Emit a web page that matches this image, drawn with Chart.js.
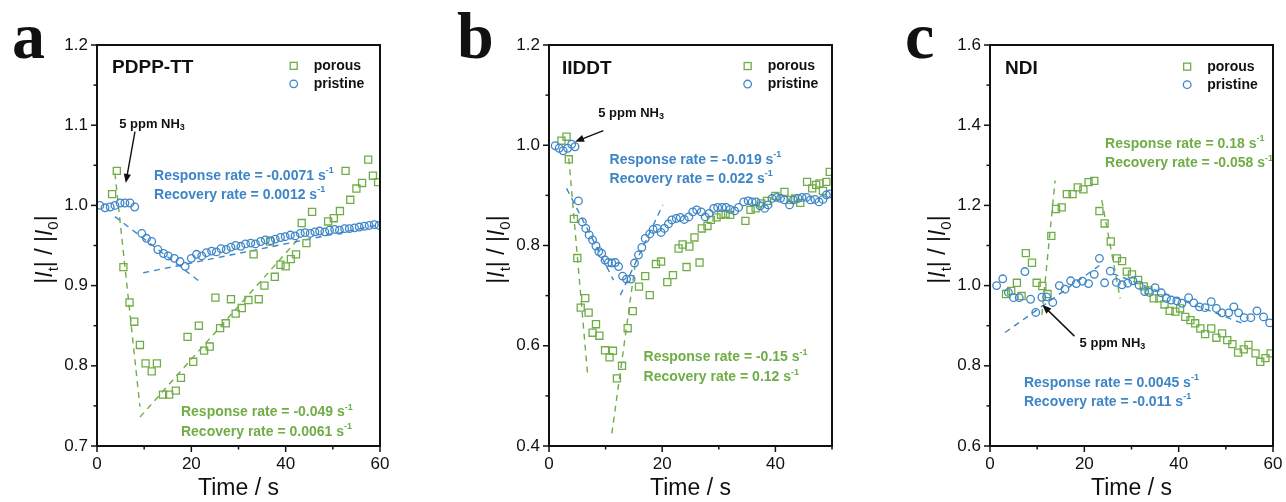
<!DOCTYPE html>
<html>
<head>
<meta charset="utf-8">
<title>NH3 response of porous vs pristine films</title>
<script src="https://cdn.jsdelivr.net/npm/chart.js@4.4.0/dist/chart.umd.min.js"></script>
<style>
  html, body { margin: 0; padding: 0; background: #fff; }
  #wrap { position: relative; width: 1286px; height: 502px; overflow: hidden; }
  .panel { position: absolute; top: 0; height: 502px; }
</style>
</head>
<body>
<div id="wrap">
  <div class="panel" style="left:0;width:390px"><canvas id="chartA" width="390" height="502"></canvas></div>
  <div class="panel" style="left:440px;width:400px"><canvas id="chartB" width="400" height="502"></canvas></div>
  <div class="panel" style="left:880px;width:406px"><canvas id="chartC" width="406" height="502"></canvas></div>
</div>
<script>
// ---- Panel a : PDPP-TT ----
const aPristineTime = [0.6, 1.7, 2.8, 3.8, 4.9, 5.9, 7.0, 8.0, 9.5, 10.5, 11.6, 12.9, 14.1, 15.1, 16.4, 17.6, 18.7,
  20.0, 21.1, 22.2, 23.2, 24.3, 25.3, 26.3, 27.4, 28.4, 29.4, 30.5, 31.5, 32.6, 33.6, 34.7, 35.7, 36.8, 37.8, 38.9, 39.9,
  41.0, 42.0, 43.1, 44.1, 45.2, 46.2, 47.2, 48.3, 49.3, 50.4, 51.4, 52.5, 53.5, 54.6, 55.6, 56.7, 57.7, 58.8, 59.8];
const aPristineRatio = [1.000, 0.997, 0.998, 1.000, 1.003, 1.003, 1.003, 0.998, 0.965, 0.959, 0.955, 0.945, 0.940, 0.937, 0.934, 0.930, 0.924,
  0.934, 0.939, 0.937, 0.941, 0.943, 0.942, 0.946, 0.945, 0.948, 0.950, 0.949, 0.952, 0.953, 0.952, 0.955, 0.957, 0.956, 0.958, 0.960, 0.961,
  0.963, 0.962, 0.965, 0.966, 0.965, 0.967, 0.968, 0.967, 0.969, 0.970, 0.969, 0.971, 0.971, 0.972, 0.973, 0.974, 0.975, 0.976, 0.975];
const aPorousTime = [3.2, 4.2, 5.6, 6.9, 7.9, 9.1, 10.3, 11.6, 12.7, 14.0, 15.3, 16.7, 17.8, 19.2, 20.4, 21.6, 22.7, 23.9, 25.1, 26.1,
  27.3, 28.4, 29.4, 30.7, 32.1, 33.2, 34.3, 35.5, 36.7, 37.7, 38.9, 40.0, 41.1, 42.2, 43.4, 44.4, 45.6, 49.0, 50.2, 51.5,
  52.7, 53.7, 55.0, 56.2, 57.5, 58.5, 59.6];
const aPorousRatio = [1.014, 1.043, 0.923, 0.879, 0.855, 0.826, 0.803, 0.793, 0.803, 0.764, 0.764, 0.769, 0.785, 0.836, 0.805, 0.850, 0.819, 0.824, 0.885, 0.847,
  0.853, 0.883, 0.865, 0.872, 0.882, 0.939, 0.883, 0.900, 0.955, 0.911, 0.926, 0.924, 0.933, 0.939, 0.978, 0.953, 0.992, 0.980, 0.984, 0.993,
  1.043, 1.007, 1.021, 1.028, 1.057, 1.037, 1.029];
// dashed fits: [time, ratio] at both ends
const aPorousFall = [[3.8, 1.040], [9.1, 0.749]];
const aPorousRise = [[9.1, 0.736], [42.5, 0.957]];
const aPristineFall = [[3.8, 0.986], [21.8, 0.905]];
const aPristineRise = [[9.8, 0.916], [60, 0.976]];

// ---- Panel b : IIDDT ----
const bPristineTime = [1.1, 1.8, 2.5, 3.3, 4.0, 4.6, 5.2, 5.9, 6.5, 7.1, 7.7, 8.3, 8.8, 9.3, 9.9, 10.5, 11.1, 11.7, 12.3, 13.0,
  13.7, 14.5, 15.1, 15.8, 16.4, 17.0, 17.8, 18.4, 19.1, 19.8, 20.4, 21.1, 21.7, 22.5, 23.2, 23.9, 24.7, 25.4, 26.1, 26.9,
  27.6, 28.3, 29.1, 29.8, 30.6, 31.3, 32.0, 32.8, 33.5, 34.4, 35.2, 35.9, 36.6, 37.3, 38.1, 38.7, 39.4, 40.2, 40.9, 41.6,
  42.5, 43.2, 44.0, 44.7, 45.5, 46.2, 47.0, 47.7, 48.4, 49.0, 49.6];
const bPristineRatio = [0.999, 0.994, 0.989, 0.994, 1.002, 0.997, 0.889, 0.847, 0.834, 0.821, 0.811, 0.799, 0.788, 0.784, 0.771, 0.766, 0.765, 0.766, 0.758, 0.739,
  0.733, 0.733, 0.765, 0.781, 0.796, 0.814, 0.823, 0.832, 0.834, 0.826, 0.834, 0.843, 0.851, 0.854, 0.856, 0.852, 0.857, 0.867, 0.871, 0.867,
  0.857, 0.864, 0.874, 0.876, 0.876, 0.876, 0.872, 0.869, 0.876, 0.887, 0.889, 0.887, 0.887, 0.879, 0.874, 0.881, 0.894, 0.896, 0.894, 0.891,
  0.881, 0.891, 0.894, 0.896, 0.896, 0.891, 0.892, 0.887, 0.892, 0.901, 0.903];
const bPorousTime = [2.2, 3.1, 3.5, 4.4, 5.0, 5.6, 6.4, 7.0, 7.7, 8.3, 8.9, 9.9, 10.7, 11.3, 12.0, 12.9, 13.9, 14.8, 15.9, 17.0,
  17.8, 18.9, 19.8, 20.9, 21.9, 22.9, 23.6, 24.3, 24.8, 25.7, 26.6, 27.0, 28.0, 28.6, 29.6, 30.4, 31.2, 32.0, 34.7, 35.6,
  36.5, 37.5, 38.5, 40.0, 41.6, 42.7, 43.5, 44.4, 45.6, 46.5, 47.2, 47.8, 48.4, 49.0, 49.6];
const bPorousRatio = [1.009, 1.017, 0.972, 0.853, 0.775, 0.676, 0.695, 0.666, 0.626, 0.643, 0.620, 0.591, 0.577, 0.590, 0.535, 0.560, 0.635, 0.669, 0.718, 0.739,
  0.701, 0.763, 0.768, 0.727, 0.741, 0.794, 0.802, 0.757, 0.798, 0.816, 0.766, 0.834, 0.839, 0.851, 0.856, 0.861, 0.863, 0.861, 0.849, 0.871,
  0.874, 0.884, 0.889, 0.899, 0.907, 0.891, 0.894, 0.885, 0.927, 0.914, 0.921, 0.924, 0.909, 0.927, 0.947];
const bPorousFall = [[3.5, 0.974], [6.8, 0.545]];
const bPorousRise = [[11.1, 0.425], [15.2, 0.760]];
const bPristineFall = [[3.1, 0.914], [11.4, 0.731]];
const bPristineRise = [[12.6, 0.701], [20.1, 0.881]];

// ---- Panel c : NDI ----
const cPristineTime = [1.4, 2.7, 3.9, 5.0, 6.2, 7.4, 8.6, 9.7, 11.0, 12.0, 13.3, 14.7, 15.9, 17.1, 18.3, 19.6, 20.9, 22.1, 23.2, 24.3,
  25.5, 26.8, 28.0, 29.2, 30.3, 31.6, 32.8, 33.8, 35.0, 36.3, 37.4, 38.4, 39.6, 40.7, 42.1, 43.2, 44.4, 45.6, 46.9, 48.0,
  49.2, 50.6, 51.7, 52.7, 53.9, 55.3, 56.6, 58.0, 59.3];
const cPristineRatio = [1.000, 1.017, 0.983, 0.970, 0.970, 1.035, 0.966, 0.933, 0.971, 0.972, 0.958, 1.000, 0.991, 1.012, 1.005, 1.011, 1.005, 1.028, 1.068, 1.007,
  1.036, 1.008, 1.002, 1.006, 1.012, 1.001, 0.985, 0.983, 0.995, 0.982, 0.968, 0.964, 0.962, 0.956, 0.970, 0.957, 0.947, 0.945, 0.960, 0.943,
  0.932, 0.932, 0.947, 0.932, 0.920, 0.920, 0.937, 0.922, 0.907];
const cPorousTime = [3.4, 4.5, 5.7, 6.7, 7.6, 8.9, 9.9, 11.1, 12.2, 13.0, 14.0, 15.2, 16.3, 17.5, 18.6, 19.8, 20.9, 22.1, 23.2, 24.3,
  25.6, 26.9, 28.0, 29.0, 30.1, 31.4, 32.6, 33.6, 34.7, 35.9, 37.0, 38.1, 39.3, 40.3, 41.4, 42.5, 43.5, 44.6, 45.6, 46.9,
  48.0, 49.2, 50.3, 51.4, 52.6, 53.8, 54.8, 56.3, 57.3, 58.4, 59.5];
const cPorousRatio = [0.979, 0.987, 1.007, 0.974, 1.081, 1.057, 1.007, 0.999, 0.979, 1.124, 1.191, 1.195, 1.228, 1.228, 1.245, 1.240, 1.258, 1.261, 1.186, 1.155,
  1.110, 1.068, 1.061, 1.035, 1.028, 1.014, 0.998, 0.988, 0.968, 0.968, 0.953, 0.937, 0.935, 0.943, 0.922, 0.914, 0.906, 0.893, 0.879, 0.893,
  0.870, 0.881, 0.864, 0.854, 0.833, 0.841, 0.852, 0.831, 0.810, 0.819, 0.831];
const cPorousFall = [[23.7, 1.213], [27.6, 0.968]];
const cPorousRise = [[11.0, 0.927], [13.8, 1.262]];
const cPristineRise = [[3.2, 0.883], [23.2, 1.050]];
const cPristineFall = [[26.0, 1.030], [53.5, 0.906]];

const GREEN = '#70ad47';
const BLUE = '#3d85c6';
const INK = '#111111';
const SANS = '"Liberation Sans", Arial, Helvetica, sans-serif';
const SERIF = '"Liberation Serif", "Times New Roman", serif';

function toPoints(ts, vs) { return ts.map((t, i) => ({ x: t, y: vs[i] })); }
function segPoints(seg) { return seg.map(p => ({ x: p[0], y: p[1] })); }

function markerSet(label, ts, vs, color, style, radius) {
    return {
        label: label,
        data: toPoints(ts, vs),
        showLine: false,
        pointStyle: style,
        pointRadius: radius,
        pointBorderWidth: 1.3,
        pointBorderColor: color,
        pointBackgroundColor: 'rgba(0,0,0,0)',
        borderColor: color,
        backgroundColor: 'rgba(0,0,0,0)'
    };
}

function fitSet(seg, color) {
    return {
        data: segPoints(seg),
        showLine: true,
        borderColor: color,
        borderWidth: 1.4,
        borderDash: [6, 5],
        pointRadius: 0,
        fill: false
    };
}

// text made of runs (normal / italic / sub / superscript)
function drawRuns(ctx, x, y, runs, size, bold) {
    let cx = x;
    runs.forEach(r => {
        const small = r.sup || r.sub;
        const s = small ? Math.round(size * 0.66) : size;
        ctx.font = (r.italic ? 'italic ' : '') + (bold ? 'bold ' : '') + s + 'px ' + SANS;
        const dy = r.sup ? -size * 0.36 : (r.sub ? size * 0.28 : 0);
        ctx.fillText(r.text, cx, y + dy);
        cx += ctx.measureText(r.text).width;
    });
    return cx - x;
}

function measureRuns(ctx, runs, size, bold) {
    let w = 0;
    runs.forEach(r => {
        const s = (r.sup || r.sub) ? Math.round(size * 0.66) : size;
        ctx.font = (r.italic ? 'italic ' : '') + (bold ? 'bold ' : '') + s + 'px ' + SANS;
        w += ctx.measureText(r.text).width;
    });
    return w;
}

function drawArrow(ctx, x1, y1, x2, y2) {
    const a = Math.atan2(y2 - y1, x2 - x1);
    const h = 9, w = 3.6;
    ctx.beginPath();
    ctx.moveTo(x1, y1);
    ctx.lineTo(x2 - Math.cos(a) * h * 0.8, y2 - Math.sin(a) * h * 0.8);
    ctx.stroke();
    ctx.beginPath();
    ctx.moveTo(x2, y2);
    ctx.lineTo(x2 - h * Math.cos(a) + w * Math.sin(a), y2 - h * Math.sin(a) - w * Math.cos(a));
    ctx.lineTo(x2 - h * Math.cos(a) - w * Math.sin(a), y2 - h * Math.sin(a) + w * Math.cos(a));
    ctx.closePath();
    ctx.fill();
}

// frame, Origin-style ticks, axis titles, legend and notes
const panelDecor = {
    id: 'panelDecor',
    afterDraw(chart, args, o) {
        const { ctx, chartArea: ca, scales: { x, y } } = chart;
        const px = v => x.getPixelForValue(v);
        const py = v => y.getPixelForValue(v);
        ctx.save();

        // frame
        ctx.strokeStyle = INK;
        ctx.lineWidth = 2;
        ctx.strokeRect(ca.left, ca.top, ca.right - ca.left, ca.bottom - ca.top);

        // ticks on bottom and left, major + minor
        ctx.lineWidth = 1.5;
        const xn = Math.round((x.max - x.min) / o.xMinor);
        for (let i = 0; i <= xn; i++) {
            const X = px(x.min + i * o.xMinor);
            const len = i % 2 === 0 ? 6 : 3.5;
            ctx.beginPath(); ctx.moveTo(X, ca.bottom); ctx.lineTo(X, ca.bottom + len); ctx.stroke();
        }
        const yn = Math.round((y.max - y.min) / o.yMinor);
        for (let i = 0; i <= yn; i++) {
            const Y = py(y.min + i * o.yMinor);
            const len = i % 2 === 0 ? 6 : 3.5;
            ctx.beginPath(); ctx.moveTo(ca.left, Y); ctx.lineTo(ca.left - len, Y); ctx.stroke();
        }

        ctx.fillStyle = INK;
        ctx.textBaseline = 'alphabetic';

        // panel letter
        ctx.font = 'bold 66px ' + SERIF;
        ctx.textAlign = 'left';
        ctx.fillText(o.letter, ca.left + o.letterDx, 58);

        // x title
        ctx.font = '23px ' + SANS;
        ctx.textAlign = 'center';
        ctx.fillText('Time / s', (ca.left + ca.right) / 2, ca.bottom + 49);

        // y title |I_t| / |I_0|
        const yRuns = [{ text: '|' }, { text: 'I', italic: true }, { text: 't', sub: true }, { text: '| / |' },
            { text: 'I', italic: true }, { text: '0', sub: true }, { text: '|' }];
        ctx.textAlign = 'left';
        ctx.save();
        ctx.translate(ca.left - 45, (ca.top + ca.bottom) / 2 + 4);
        ctx.rotate(-Math.PI / 2);
        const yw = measureRuns(ctx, yRuns, 23, false);
        drawRuns(ctx, -yw / 2, 0, yRuns, 23, false);
        ctx.restore();

        // everything else stays inside the plot frame
        ctx.save();
        ctx.beginPath();
        ctx.rect(ca.left + 1, ca.top + 1, ca.right - ca.left - 2, ca.bottom - ca.top - 2);
        ctx.clip();
        ctx.textBaseline = 'middle';

        // sample name
        ctx.fillStyle = INK;
        ctx.font = 'bold 19px ' + SANS;
        ctx.fillText(o.name.text, px(o.name.x), py(o.name.y));

        // legend
        const lx = px(o.legend.x), ly = py(o.legend.y);
        ctx.lineWidth = 1.3;
        ctx.strokeStyle = GREEN;
        ctx.strokeRect(lx - 3.5, ly - 3.5, 7, 7);
        ctx.strokeStyle = BLUE;
        ctx.beginPath(); ctx.arc(lx, ly + 18, 3.8, 0, Math.PI * 2); ctx.stroke();
        ctx.fillStyle = INK;
        ctx.font = 'bold 14px ' + SANS;
        ctx.fillText('porous', lx + 20, ly);
        ctx.fillText('pristine', lx + 20, ly + 18);

        // rate notes
        o.notes.forEach(n => {
            ctx.fillStyle = n.color;
            drawRuns(ctx, px(n.x), py(n.y), [{ text: n.text }, { text: '-1', sup: true }], 14, true);
        });

        // NH3 exposure marker
        ctx.fillStyle = INK;
        ctx.strokeStyle = INK;
        ctx.lineWidth = 1.4;
        drawRuns(ctx, px(o.gas.x), py(o.gas.y), [{ text: '5 ppm NH' }, { text: '3', sub: true }], 13, true);
        drawArrow(ctx, px(o.gas.from[0]), py(o.gas.from[1]), px(o.gas.to[0]), py(o.gas.to[1]));
        ctx.restore();

        ctx.restore();
    }
};

function makePanel(id, cfg) {
    new Chart(document.getElementById(id), {
        type: 'scatter',
        data: {
            datasets: [
                markerSet('pristine', cfg.pristine[0], cfg.pristine[1], BLUE, 'circle', 3.8),
                markerSet('porous', cfg.porous[0], cfg.porous[1], GREEN, 'rect', 5),
                ...cfg.pristineFits.map(s => fitSet(s, BLUE)),
                ...cfg.porousFits.map(s => fitSet(s, GREEN))
            ]
        },
        options: {
            responsive: false,
            animation: false,
            events: [],
            layout: { padding: { left: 0, top: 45, right: cfg.padRight, bottom: 0 } },
            plugins: {
                legend: { display: false },
                tooltip: { enabled: false },
                panelDecor: cfg.decor
            },
            scales: {
                x: {
                    type: 'linear',
                    min: cfg.xMin, max: cfg.xMax,
                    afterFit: s => { s.height = 56; s.paddingLeft = 0; s.paddingRight = 0; },
                    grid: { display: false, drawTicks: false },
                    border: { display: false },
                    ticks: {
                        stepSize: 20, padding: 8, autoSkip: false, includeBounds: false, maxRotation: 0,
                        color: INK, font: { family: SANS, size: 17 }
                    }
                },
                y: {
                    type: 'linear',
                    min: cfg.yMin, max: cfg.yMax,
                    afterFit: s => { s.width = cfg.yWidth; s.paddingTop = 0; s.paddingBottom = 0; },
                    grid: { display: false, drawTicks: false },
                    border: { display: false },
                    ticks: {
                        stepSize: cfg.yStep, padding: 9, autoSkip: false,
                        color: INK, font: { family: SANS, size: 17 },
                        callback: v => v.toFixed(1)
                    }
                }
            }
        },
        plugins: [panelDecor]
    });
}

// Graphique a
makePanel('chartA', {
    pristine: [aPristineTime, aPristineRatio],
    porous: [aPorousTime, aPorousRatio],
    pristineFits: [aPristineFall, aPristineRise],
    porousFits: [aPorousFall, aPorousRise],
    xMin: 0, xMax: 60, yMin: 0.7, yMax: 1.2, yStep: 0.1,
    yWidth: 97, padRight: 10,
    decor: {
        letter: 'a', letterDx: -85, xMinor: 10, yMinor: 0.05,
        name: { text: 'PDPP-TT', x: 3.2, y: 1.171 },
        legend: { x: 41.7, y: 1.174 },
        gas: { x: 4.7, y: 1.1015, from: [8.05, 1.092], to: [6.1, 1.028] },
        notes: [
            { text: 'Response rate = -0.0071 s', x: 12.1, y: 1.0367, color: BLUE },
            { text: 'Recovery rate = 0.0012 s', x: 12.1, y: 1.013, color: BLUE },
            { text: 'Response rate = -0.049 s', x: 17.8, y: 0.742, color: GREEN },
            { text: 'Recovery rate = 0.0061 s', x: 17.8, y: 0.7175, color: GREEN }
        ]
    }
});

// Graphique b
makePanel('chartB', {
    pristine: [bPristineTime, bPristineRatio],
    porous: [bPorousTime, bPorousRatio],
    pristineFits: [bPristineFall, bPristineRise],
    porousFits: [bPorousFall, bPorousRise],
    xMin: 0, xMax: 50, yMin: 0.4, yMax: 1.2, yStep: 0.2,
    yWidth: 109, padRight: 8,
    decor: {
        letter: 'b', letterDx: -92, xMinor: 10, yMinor: 0.1,
        name: { text: 'IIDDT', x: 2.3, y: 1.153 },
        legend: { x: 35.1, y: 1.158 },
        gas: { x: 8.7, y: 1.064, from: [9.6, 1.029], to: [4.6, 1.007] },
        notes: [
            { text: 'Response rate = -0.019 s', x: 10.7, y: 0.9706, color: BLUE },
            { text: 'Recovery rate = 0.022 s', x: 10.7, y: 0.933, color: BLUE },
            { text: 'Response rate = -0.15 s', x: 16.7, y: 0.577, color: GREEN },
            { text: 'Recovery rate = 0.12 s', x: 16.7, y: 0.537, color: GREEN }
        ]
    }
});

// Graphique c
makePanel('chartC', {
    pristine: [cPristineTime, cPristineRatio],
    porous: [cPorousTime, cPorousRatio],
    pristineFits: [cPristineRise, cPristineFall],
    porousFits: [cPorousRise, cPorousFall],
    xMin: 0, xMax: 60, yMin: 0.6, yMax: 1.6, yStep: 0.2,
    yWidth: 110, padRight: 13,
    decor: {
        letter: 'c', letterDx: -85, xMinor: 10, yMinor: 0.1,
        name: { text: 'NDI', x: 3.2, y: 1.541 },
        legend: { x: 41.8, y: 1.546 },
        gas: { x: 19.0, y: 0.856, from: [17.9, 0.874], to: [11.1, 0.952] },
        notes: [
            { text: 'Response rate = 0.18 s', x: 24.4, y: 1.353, color: GREEN },
            { text: 'Recovery rate = -0.058 s', x: 24.4, y: 1.3045, color: GREEN },
            { text: 'Response rate = 0.0045 s', x: 7.2, y: 0.758, color: BLUE },
            { text: 'Recovery rate = -0.011 s', x: 7.2, y: 0.710, color: BLUE }
        ]
    }
});
</script>
</body>
</html>
